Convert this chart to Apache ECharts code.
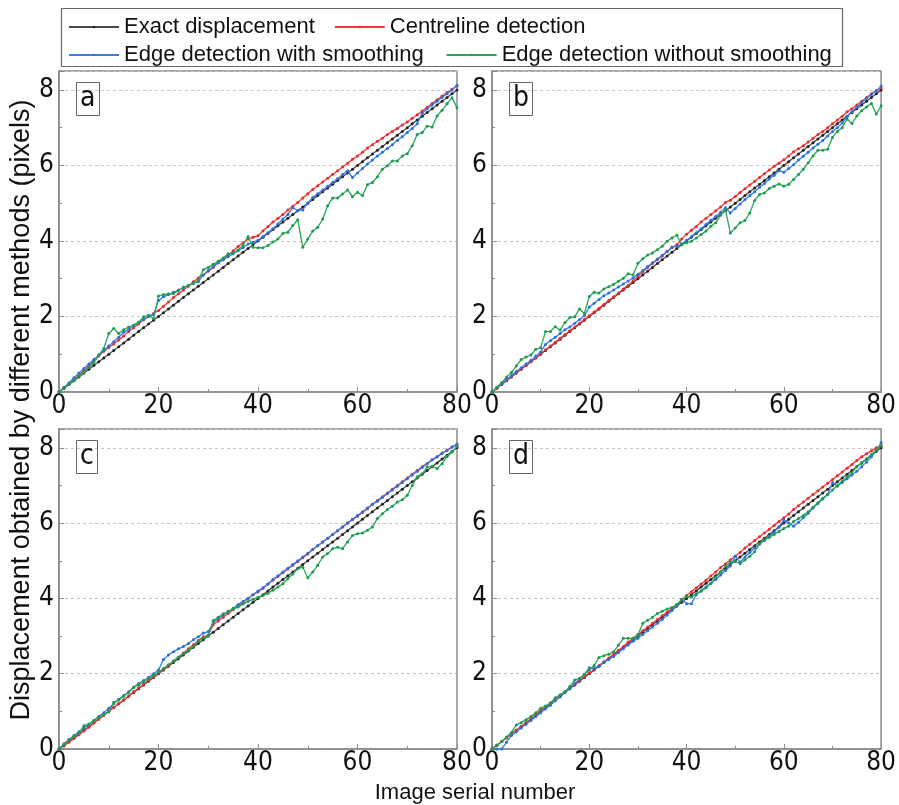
<!DOCTYPE html>
<html>
<head>
<meta charset="utf-8">
<script src="https://cdn.jsdelivr.net/npm/echarts@6/dist/echarts.min.js"></script>
<style>
html, body { margin: 0; padding: 0; background: #fff; }
#chart { width: 899px; height: 805px; }
</style>
</head>
<body>
<div id="chart"></div>
<script>
// image serial number (x) for every panel
const serial = [0,1,2,3,4,5,6,7,8,9,10,11,12,13,14,15,16,17,18,19,20,21,22,23,24,25,26,27,28,29,30,
  31,32,33,34,35,36,37,38,39,40,41,42,43,44,45,46,47,48,49,50,51,52,53,54,55,56,57,58,59,60,
  61,62,63,64,65,66,67,68,69,70,71,72,73,74,75,76,77,78,79,80];

// exact displacement, same in all panels
const exact = [0,0.1,0.2,0.3,0.4,0.5,0.6,0.7,0.8,0.9,1.0,1.1,1.2,1.3,1.4,1.5,1.6,1.7,1.8,1.9,2.0,
  2.1,2.2,2.3,2.4,2.5,2.6,2.7,2.8,2.9,3.0,3.1,3.2,3.3,3.4,3.5,3.6,3.7,3.8,3.9,4.0,
  4.1,4.2,4.3,4.4,4.5,4.6,4.7,4.8,4.9,5.0,5.1,5.2,5.3,5.4,5.5,5.6,5.7,5.8,5.9,6.0,
  6.1,6.2,6.3,6.4,6.5,6.6,6.7,6.8,6.9,7.0,7.1,7.2,7.3,7.4,7.5,7.6,7.7,7.8,7.9,8.0];

// panel a
const redA = [0,0.12,0.22,0.34,0.45,0.56,0.7,0.82,0.95,1.08,1.18,1.27,1.38,1.48,1.6,1.7,1.8,1.91,2.0,2.08,2.16,
  2.27,2.38,2.5,2.6,2.7,2.8,2.92,3.02,3.1,3.2,3.3,3.42,3.52,3.62,3.74,3.85,3.95,4.05,4.1,4.14,
  4.27,4.38,4.5,4.6,4.7,4.82,4.92,5.02,5.14,5.25,5.36,5.46,5.56,5.66,5.76,5.86,5.96,6.06,6.16,6.25,
  6.35,6.46,6.55,6.64,6.72,6.82,6.9,6.98,7.07,7.15,7.25,7.34,7.44,7.54,7.64,7.74,7.84,7.93,8.02,8.1];
const blueA = [0,0.12,0.24,0.38,0.5,0.62,0.74,0.86,0.98,1.1,1.22,1.33,1.45,1.58,1.66,1.75,1.84,1.92,2.0,2.05,2.42,
  2.52,2.58,2.64,2.7,2.76,2.82,2.88,2.92,3.1,3.22,3.32,3.42,3.5,3.58,3.66,3.74,3.82,3.92,3.96,4.02,
  4.12,4.22,4.32,4.45,4.58,4.7,4.88,4.8,4.82,5.0,5.15,5.25,5.35,5.45,5.55,5.65,5.76,5.86,5.68,5.8,
  5.92,6.04,6.14,6.25,6.35,6.45,6.55,6.66,6.76,6.87,6.98,7.1,7.38,7.5,7.6,7.7,7.8,7.9,8.0,8.12];
const greenA = [0,0.1,0.2,0.3,0.42,0.52,0.65,0.78,0.98,1.15,1.55,1.68,1.55,1.65,1.72,1.77,1.85,1.99,2.03,1.94,2.54,
  2.58,2.6,2.6,2.69,2.78,2.82,2.87,2.96,3.24,3.3,3.38,3.46,3.55,3.66,3.68,3.76,3.88,4.12,3.83,3.82,
  3.82,3.88,3.97,4.05,4.2,4.23,4.41,4.56,3.83,4.05,4.26,4.36,4.58,4.93,5.14,5.14,5.24,5.35,5.17,5.29,
  5.2,5.49,5.55,5.7,5.9,5.99,6.12,6.12,6.25,6.31,6.52,6.82,6.87,7.04,7.02,7.31,7.46,7.63,7.79,7.53];

// panel b
const redB = [0,0.1,0.21,0.31,0.41,0.51,0.61,0.71,0.81,0.91,1.02,1.12,1.22,1.32,1.42,1.52,1.62,1.72,1.82,1.92,2.02,
  2.12,2.22,2.32,2.42,2.52,2.62,2.73,2.83,2.94,3.06,3.18,3.3,3.4,3.5,3.6,3.72,3.82,3.9,4.05,4.18,
  4.28,4.38,4.5,4.6,4.7,4.8,4.9,5.02,5.08,5.18,5.28,5.38,5.48,5.58,5.68,5.78,5.88,5.98,6.06,6.15,
  6.25,6.36,6.44,6.52,6.62,6.72,6.82,6.9,7.0,7.1,7.2,7.3,7.42,7.5,7.6,7.7,7.8,7.9,7.98,8.05];
const blueB = [0,0.12,0.22,0.33,0.44,0.54,0.64,0.74,0.84,0.95,1.06,1.26,1.36,1.45,1.55,1.65,1.72,1.82,1.92,2.02,2.25,
  2.35,2.45,2.55,2.62,2.7,2.78,2.86,2.94,3.02,3.12,3.22,3.32,3.42,3.52,3.62,3.72,3.84,3.86,3.92,4.02,
  4.12,4.22,4.32,4.44,4.55,4.65,4.76,4.88,4.74,4.86,4.98,5.1,5.2,5.3,5.42,5.52,5.64,5.74,5.86,5.82,
  5.92,6.02,6.14,6.24,6.35,6.46,6.56,6.66,6.78,6.9,7.0,7.12,7.3,7.42,7.54,7.66,7.78,7.88,7.98,8.1];
const greenB = [0,0.12,0.25,0.4,0.52,0.69,0.86,0.93,0.98,1.13,1.17,1.6,1.6,1.73,1.64,1.84,1.97,1.99,2.2,2.08,2.53,
  2.64,2.62,2.73,2.79,2.85,2.93,3.01,3.13,3.1,3.41,3.53,3.63,3.68,3.77,3.86,3.99,4.08,4.15,3.9,3.95,
  3.99,4.08,4.17,4.26,4.39,4.48,4.68,4.83,4.21,4.34,4.48,4.54,4.74,5.07,5.23,5.27,5.39,5.45,5.51,5.45,
  5.5,5.63,5.76,5.9,6.07,6.25,6.4,6.4,6.43,6.74,6.9,7.0,7.23,7.11,7.31,7.45,7.55,7.64,7.36,7.58];

// panel c
const redC = [0,0.08,0.18,0.28,0.38,0.48,0.58,0.69,0.8,0.9,1.0,1.1,1.2,1.3,1.41,1.52,1.62,1.72,1.82,1.92,2.02,
  2.12,2.22,2.33,2.44,2.55,2.66,2.77,2.88,2.98,3.02,3.3,3.4,3.5,3.6,3.7,3.8,3.9,4.0,4.1,4.17,
  4.27,4.38,4.48,4.58,4.68,4.78,4.88,4.98,5.08,5.18,5.3,5.4,5.5,5.6,5.7,5.8,5.9,6.0,6.1,6.18,
  6.28,6.38,6.5,6.6,6.7,6.8,6.9,7.0,7.1,7.2,7.3,7.4,7.5,7.58,7.68,7.76,7.86,7.94,8.02,8.08];
const blueC = [0,0.14,0.25,0.36,0.46,0.56,0.66,0.76,0.86,0.96,1.08,1.2,1.32,1.42,1.52,1.64,1.74,1.82,1.9,2.0,2.1,
  2.38,2.5,2.58,2.66,2.72,2.8,2.9,2.98,3.08,3.12,3.36,3.46,3.56,3.65,3.74,3.84,3.92,4.0,4.1,4.2,
  4.28,4.38,4.5,4.6,4.7,4.8,4.9,5.0,5.1,5.2,5.3,5.4,5.5,5.6,5.7,5.8,5.9,6.0,6.1,6.2,
  6.3,6.4,6.5,6.58,6.68,6.78,6.88,6.98,7.08,7.18,7.28,7.38,7.48,7.58,7.68,7.76,7.85,7.93,8.02,8.1];
const greenC = [0,0.12,0.24,0.34,0.42,0.62,0.66,0.76,0.84,0.92,0.98,1.24,1.3,1.4,1.5,1.64,1.7,1.78,1.86,1.96,2.04,
  2.14,2.24,2.34,2.44,2.53,2.62,2.72,2.86,2.95,3.01,3.41,3.5,3.59,3.65,3.72,3.77,3.85,3.92,3.98,4.03,
  4.08,4.14,4.22,4.3,4.39,4.52,4.65,4.79,4.83,4.55,4.7,4.88,5.1,5.19,5.32,5.36,5.32,5.5,5.67,5.72,
  5.74,5.81,5.9,6.12,6.25,6.36,6.45,6.56,6.62,6.74,7.0,7.23,7.31,7.49,7.51,7.45,7.58,7.77,7.89,8.04];

// panel d
const redD = [0,0.1,0.2,0.3,0.4,0.5,0.6,0.7,0.8,0.92,1.02,1.12,1.22,1.32,1.42,1.52,1.62,1.72,1.82,1.92,2.02,
  2.12,2.22,2.32,2.42,2.52,2.62,2.72,2.84,2.94,3.04,3.14,3.24,3.34,3.44,3.54,3.64,3.74,3.84,3.96,4.08,
  4.18,4.28,4.38,4.48,4.6,4.7,4.82,4.92,5.02,5.12,5.22,5.34,5.44,5.54,5.64,5.74,5.84,5.94,6.04,6.14,
  6.24,6.36,6.46,6.56,6.66,6.76,6.86,6.96,7.06,7.16,7.26,7.36,7.46,7.56,7.66,7.76,7.84,7.92,8.0,8.06];
const blueD = [0,0,0,0.18,0.36,0.46,0.56,0.66,0.76,0.86,0.96,1.06,1.16,1.28,1.38,1.5,1.62,1.74,1.86,1.98,2.16,
  2.14,2.2,2.3,2.38,2.46,2.56,2.66,2.76,2.86,2.94,3.04,3.14,3.24,3.34,3.44,3.56,3.68,3.8,3.98,3.86,
  3.86,4.1,4.2,4.3,4.4,4.5,4.62,4.74,4.86,5.12,4.96,5.1,5.22,5.34,5.44,5.54,5.66,5.76,5.9,6.08,
  6.0,5.92,6.02,6.14,6.26,6.4,6.52,6.64,6.76,7.08,6.98,7.08,7.18,7.28,7.38,7.5,7.62,7.76,7.92,8.14];
const greenD = [0,0.1,0.2,0.32,0.44,0.64,0.7,0.78,0.86,0.96,1.08,1.14,1.22,1.36,1.44,1.52,1.66,1.83,1.88,1.98,2.1,
  2.22,2.43,2.48,2.52,2.58,2.76,2.94,2.94,2.94,3.02,3.34,3.42,3.5,3.6,3.66,3.72,3.76,3.84,3.96,4.05,
  4.04,4.12,4.2,4.28,4.4,4.56,4.7,4.86,4.96,4.98,4.92,5.02,5.12,5.24,5.45,5.56,5.62,5.7,5.78,5.86,
  5.92,6.04,6.12,6.2,6.3,6.42,6.54,6.66,6.76,6.88,7.0,7.12,7.22,7.34,7.5,7.6,7.7,7.82,7.94,8.05];

const panelLabels = ['a', 'b', 'c', 'd'];
const seriesNames = ['Exact displacement', 'Centreline detection',
  'Edge detection with smoothing', 'Edge detection without smoothing'];
const panelData = [
  [exact, redA, blueA, greenA],
  [exact, redB, blueB, greenB],
  [exact, redC, blueC, greenC],
  [exact, redD, blueD, greenD]
];

const colors = ['#4a4a4a', '#f23a3a', '#3a7ee6', '#27a85a'];
const dotColors = ['#222', '#e82c2c', '#2a6fda', '#1f9a4e'];
const narrow = "'Liberation Sans Narrow', 'DejaVu Sans Condensed', 'Roboto Condensed', 'Arial Narrow', 'Liberation Sans', sans-serif";
const sans = "'Liberation Sans', Arial, sans-serif";

// plot boxes: left, top, width, height
const boxes = [
  [59, 71, 398, 321],
  [492, 71, 392, 321],
  [59, 429, 398, 320],
  [492, 429, 392, 320]
];

const frame = '#8a8a8a';

const grids = boxes.map(b => ({
  left: b[0], top: b[1], width: b[2], height: b[3],
  show: true, borderColor: frame, borderWidth: 1.5, backgroundColor: '#fff'
}));

const xAxes = boxes.map((b, i) => ({
  type: 'value', gridIndex: i, min: 0, max: 80, interval: 20,
  axisLine: { show: true, onZero: false, lineStyle: { color: frame, width: 1.5 } },
  axisTick: { show: true, inside: true, length: 5, lineStyle: { color: frame } },
  minorTick: { show: true, splitNumber: 2, length: 3, lineStyle: { color: frame } },
  splitLine: { show: false },
  axisLabel: { color: '#111', fontFamily: narrow, fontSize: 26, margin: 1 }
}));

const yAxes = boxes.map((b, i) => ({
  type: 'value', gridIndex: i, min: 0, max: 8.5, interval: 2,
  axisLine: { show: true, onZero: false, lineStyle: { color: frame, width: 1.5 } },
  axisTick: { show: true, inside: true, length: 5, lineStyle: { color: frame } },
  minorTick: { show: true, splitNumber: 2, length: 3, lineStyle: { color: frame } },
  splitLine: { show: true, lineStyle: { color: '#c4c4c4', type: [3, 3], width: 1 } },
  axisLabel: { color: '#111', fontFamily: narrow, fontSize: 26, margin: 5, showMaxLabel: false }
}));

const series = [];
panelData.forEach((set, p) => {
  set.forEach((vals, k) => {
    series.push({
      name: seriesNames[k],
      type: 'line',
      xAxisIndex: p,
      yAxisIndex: p,
      data: serial.map((s, i) => [s, vals[i]]),
      symbol: 'circle',
      symbolSize: 3,
      showSymbol: true,
      lineStyle: { color: colors[k], width: 1.3 },
      itemStyle: { color: dotColors[k] },
      z: 2 + k,
      animation: false
    });
  });
});

const titles = boxes.map((b, i) => ({
  text: panelLabels[i],
  left: b[0] + 17, top: b[1] + 11,
  borderColor: '#666', borderWidth: 1,
  padding: [3, 4, 3, 4],
  textStyle: { fontFamily: narrow, fontSize: 28, fontWeight: 'normal', color: '#111', lineHeight: 28 }
}));

const legendText = { fontFamily: sans, fontSize: 22, color: '#111' };

const chart = echarts.init(document.getElementById('chart'), null, { renderer: 'canvas' });
chart.setOption({
  backgroundColor: '#fff',
  animation: false,
  title: titles,
  legend: [
    { data: seriesNames.slice(0, 2), left: 63, top: 11, itemWidth: 50, itemHeight: 3, itemGap: 19,
      textStyle: legendText },
    { data: seriesNames.slice(2), left: 63, top: 39, itemWidth: 50, itemHeight: 3, itemGap: 22,
      textStyle: legendText }
  ],
  grid: grids,
  xAxis: xAxes,
  yAxis: yAxes,
  series: series,
  graphic: [
    { type: 'rect', left: 59, top: 6, shape: { width: 781, height: 58 },
      style: { fill: 'none', stroke: '#666', lineWidth: 1.2 }, silent: true },
    { type: 'text', x: 22, y: 410, rotation: Math.PI / 2,
      style: { text: 'Displacement obtained by different methods (pixels)', font: '27px ' + sans,
        fill: '#111', textAlign: 'center', textVerticalAlign: 'middle' } },
    { type: 'text', x: 475, y: 793,
      style: { text: 'Image serial number', font: '22px ' + sans,
        fill: '#111', textAlign: 'center', textVerticalAlign: 'middle' } }
  ]
});
</script>
</body>
</html>
